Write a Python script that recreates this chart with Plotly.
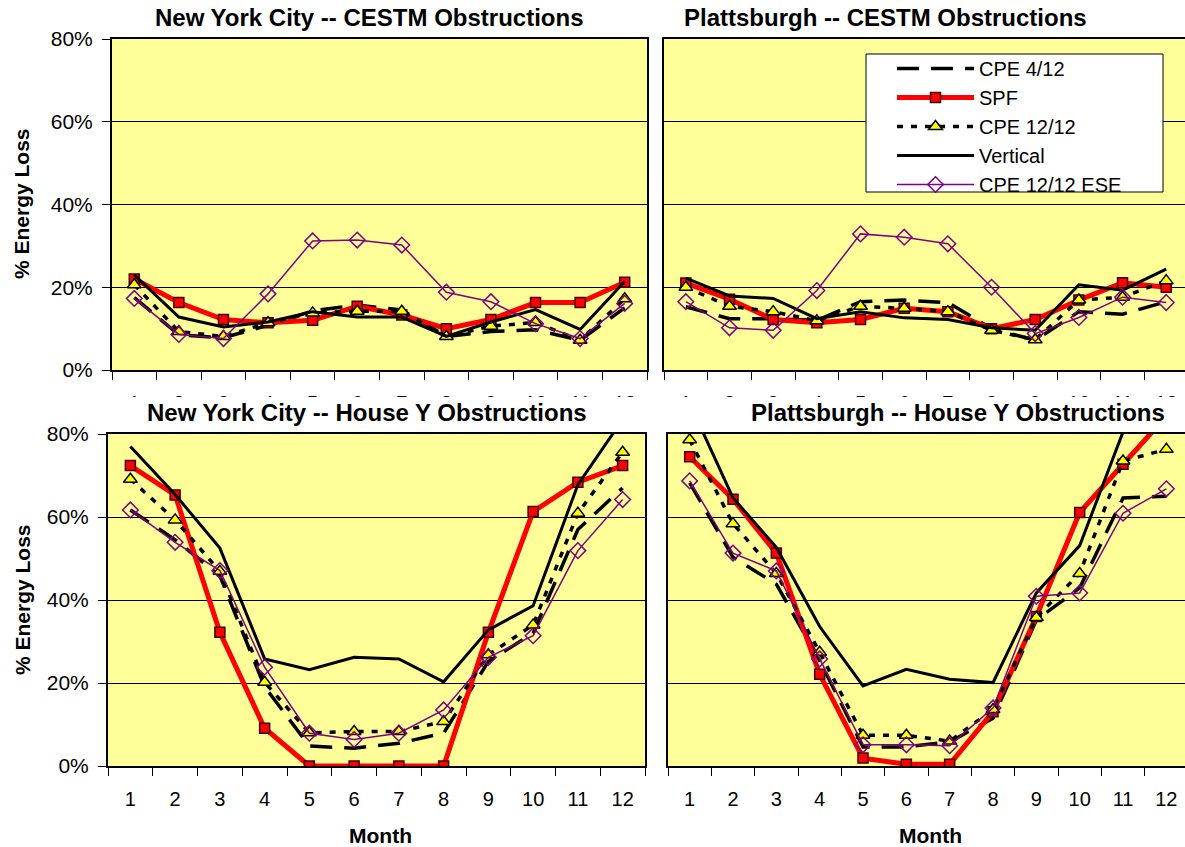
"""Perdas de energia por obstrucoes -- 4 paineis (NYC / Plattsburgh)."""

import plotly.graph_objects as go
from plotly.subplots import make_subplots

MONTHS = list(range(1, 13))

SERIES = ["CPE 4/12", "SPF", "CPE 12/12", "Vertical", "CPE 12/12 ESE"]

# New York City -- CESTM Obstructions (% energy loss)
nyc_cestm_cpe412 = [17.5, 8.5, 7.8, 10.8, 14.3, 15.7, 14.5, 8.1, 9.3, 9.7, 7.2, 15.0]
nyc_cestm_spf = [22.0, 16.3, 12.2, 11.4, 12.0, 15.4, 13.3, 10.0, 12.2, 16.3, 16.3, 21.2]
nyc_cestm_cpe1212 = [20.6, 9.3, 8.1, 11.4, 13.8, 14.2, 14.2, 8.1, 10.6, 11.5, 7.2, 17.2]
nyc_cestm_vertical = [23.0, 12.8, 10.4, 11.6, 14.1, 12.8, 12.8, 8.1, 11.6, 14.6, 9.8, 21.4]
nyc_cestm_ese = [17.3, 8.6, 7.6, 18.4, 31.2, 31.4, 30.2, 18.8, 16.5, 11.2, 7.6, 16.1]

# Plattsburgh -- CESTM Obstructions
pla_cestm_cpe412 = [15.3, 12.4, 12.4, 12.0, 16.5, 16.9, 16.3, 10.0, 7.2, 14.1, 13.5, 16.5]
pla_cestm_spf = [21.0, 17.1, 12.2, 11.4, 12.2, 14.9, 14.1, 10.0, 12.2, 16.9, 21.1, 20.0]
pla_cestm_cpe1212 = [20.0, 15.4, 14.1, 11.9, 15.4, 14.9, 14.1, 9.6, 7.3, 16.9, 17.6, 21.6]
pla_cestm_vertical = [22.2, 17.9, 17.3, 12.4, 14.1, 12.6, 12.2, 10.2, 9.6, 20.6, 19.3, 24.4]
pla_cestm_ese = [16.5, 10.2, 9.6, 19.2, 32.9, 32.1, 30.5, 20.0, 8.8, 12.7, 17.6, 16.3]

# New York City -- House Y Obstructions
nyc_house_cpe412 = [61.7, 54.5, 45.8, 19.1, 4.8, 4.3, 5.5, 7.9, 25.2, 32.0, 57.0, 67.0]
nyc_house_spf = [72.4, 65.3, 32.2, 9.1, 0.0, 0.0, 0.0, 0.0, 32.2, 61.3, 68.4, 72.4]
nyc_house_cpe1212 = [69.1, 59.3, 46.9, 20.2, 8.0, 8.3, 8.3, 10.7, 26.8, 34.0, 60.9, 75.6]
nyc_house_vertical = [77.0, 65.4, 52.5, 25.8, 23.2, 26.2, 25.8, 20.3, 32.8, 38.6, 67.8, 83.5]
nyc_house_ese = [61.7, 53.9, 47.1, 23.8, 7.9, 6.4, 7.9, 13.5, 26.2, 31.4, 51.9, 64.2]

# Plattsburgh -- House Y Obstructions
pla_house_cpe412 = [68.2, 50.3, 43.8, 25.4, 4.6, 4.6, 5.8, 11.5, 35.2, 42.9, 64.6, 65.0]
pla_house_spf = [74.5, 64.3, 51.3, 22.1, 1.9, 0.4, 0.4, 13.1, 36.0, 61.1, 72.7, 84.3]
pla_house_cpe1212 = [78.6, 58.4, 46.4, 27.4, 7.4, 7.4, 6.0, 13.6, 35.8, 46.4, 73.5, 76.3]
pla_house_vertical = [87.4, 64.6, 52.7, 33.6, 19.3, 23.3, 20.9, 20.1, 41.7, 53.1, 80.5, 83.0]
pla_house_ese = [68.7, 51.3, 47.0, 25.8, 5.1, 5.1, 4.9, 14.0, 40.9, 41.7, 60.9, 66.8]

PANELS = [
    (1, 1, "New York City -- CESTM Obstructions",
     [nyc_cestm_cpe412, nyc_cestm_spf, nyc_cestm_cpe1212, nyc_cestm_vertical, nyc_cestm_ese]),
    (1, 2, "Plattsburgh -- CESTM Obstructions",
     [pla_cestm_cpe412, pla_cestm_spf, pla_cestm_cpe1212, pla_cestm_vertical, pla_cestm_ese]),
    (2, 1, "New York City -- House Y Obstructions",
     [nyc_house_cpe412, nyc_house_spf, nyc_house_cpe1212, nyc_house_vertical, nyc_house_ese]),
    (2, 2, "Plattsburgh -- House Y Obstructions",
     [pla_house_cpe412, pla_house_spf, pla_house_cpe1212, pla_house_vertical, pla_house_ese]),
]

W, H = 1185, 847
FONT = "Liberation Sans, Arial, sans-serif"

# estilo de cada serie: linha + marcador
STYLES = {
    "CPE 4/12": dict(mode="lines", line=dict(color="black", width=3.5, dash="22px,12px")),
    "SPF": dict(mode="lines+markers", line=dict(color="#FF0000", width=5),
                marker=dict(symbol="square", size=10, color="#FF0000",
                            line=dict(color="#400000", width=1.5))),
    "CPE 12/12": dict(mode="lines+markers", line=dict(color="black", width=3.5, dash="6px,8px"),
                      marker=dict(symbol="triangle-up", size=12, color="#FFFF00",
                                  line=dict(color="black", width=1.5))),
    "Vertical": dict(mode="lines", line=dict(color="black", width=3)),
    "CPE 12/12 ESE": dict(mode="lines+markers", line=dict(color="#800080", width=1.5),
                          marker=dict(symbol="diamond-open", size=12, color="#800080",
                                      line=dict(color="#800080", width=1.5))),
}


def px_x(p):
    return p / W


def px_y(p):
    return 1 - p / H


fig = make_subplots(rows=2, cols=2)

for row, col, title, values in PANELS:
    for name, ys in zip(SERIES, values):
        fig.add_trace(
            go.Scatter(x=MONTHS, y=ys, name=name, showlegend=(row == 1 and col == 2),
                       **STYLES[name]),
            row=row, col=col,
        )

# dominios em pixels da imagem (esq, dir, topo, base)
DOMAINS = {
    (1, 1): (112, 647, 39, 370),
    (1, 2): (664, 1185, 39, 370),
    (2, 1): (108, 645, 434, 766),
    (2, 2): (668, 1185, 434, 766),
}
XMAX = {(1, 1): 12.5, (1, 2): 12.43, (2, 1): 12.5, (2, 2): 12.43}

for (row, col), (l, r, t, b) in DOMAINS.items():
    left = col == 1
    fig.update_xaxes(
        domain=[px_x(l), px_x(r)], range=[0.5, XMAX[(row, col)]], automargin=False,
        tickvals=MONTHS, ticks="", showgrid=False, zeroline=False,
        minor=dict(tick0=0.5, dtick=1, ticks="outside", ticklen=8,
                   tickcolor="black", tickwidth=1, showgrid=False),
        showline=True, linecolor="black", linewidth=2, mirror=True,
        tickfont=dict(size=20, color="black"), ticklabelstandoff=14,
        row=row, col=col,
    )
    fig.update_yaxes(
        domain=[px_y(b), px_y(t)], range=[0, 80], dtick=20, ticksuffix="%",
        automargin=False,
        showgrid=True, gridcolor="black", gridwidth=1, zeroline=False,
        ticks="outside" if left else "", ticklen=8, tickcolor="black",
        showticklabels=left, ticklabelstandoff=5,
        showline=True, linecolor="black", linewidth=2, mirror=left,
        tickfont=dict(size=21, color="black"),
        row=row, col=col,
    )

annotations = []
TITLE_POS = [(369, 18), (885, 18), (367, 412), (958, 412)]
for (row, col, title, _), (cx, cy) in zip(PANELS, TITLE_POS):
    annotations.append(dict(text=f"<b>{title}</b>", x=px_x(cx), y=px_y(cy),
                            xanchor="center", yanchor="middle",
                            xref="paper", yref="paper", showarrow=False,
                            font=dict(size=24, color="black")))
for cy in (204, 600):
    annotations.append(dict(text="<b>% Energy Loss</b>", x=px_x(22), y=px_y(cy),
                            xanchor="center", yanchor="middle",
                            xref="paper", yref="paper", showarrow=False,
                            textangle=-90, font=dict(size=21, color="black")))
for cx in (380, 930):
    annotations.append(dict(text="<b>Month</b>", x=px_x(cx), y=px_y(835),
                            xanchor="center", yanchor="middle",
                            xref="paper", yref="paper", showarrow=False,
                            font=dict(size=21, color="black")))

shapes = [
    # rotulos do eixo x de cima ficam escondidos atras dos titulos de baixo
    dict(type="rect", xref="paper", yref="paper", x0=0, x1=1,
         y0=px_y(426), y1=px_y(397), fillcolor="white",
         line=dict(width=0), layer="above"),
    # caixa da legenda
    dict(type="rect", xref="paper", yref="paper",
         x0=px_x(866), x1=px_x(1163), y0=px_y(192), y1=px_y(54),
         fillcolor="white", line=dict(color="black", width=1), layer="above"),
]

fig.update_layout(
    width=W, height=H,
    margin=dict(l=0, r=0, t=0, b=0, autoexpand=False),
    paper_bgcolor="white",
    plot_bgcolor="#FFFF99",
    font=dict(family=FONT, color="black", size=21),
    annotations=annotations,
    shapes=shapes,
    legend=dict(x=px_x(892), y=px_y(49), xanchor="left", yanchor="top",
                bgcolor="rgba(0,0,0,0)", borderwidth=0,
                font=dict(size=20, color="black"), itemwidth=77,
                tracegroupgap=0),
)

# tira a margem padrao do <body> para a figura ocupar a janela toda
fig.write_html("out.html", config={"displayModeBar": False},
               post_script="document.body.style.margin = '0px';")
